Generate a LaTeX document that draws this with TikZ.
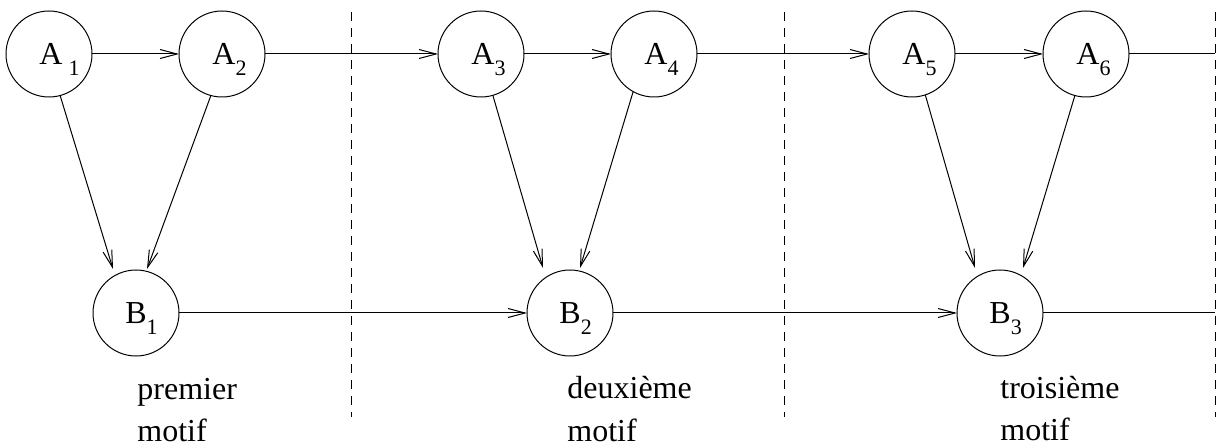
\documentclass[tikz,border=0pt]{standalone}
\usepackage{fontspec}
\setmainfont{Liberation Serif}
\usetikzlibrary{arrows.meta,calc}
% lowered, smaller index after a letter
\newcommand\idx[1]{\raisebox{-5.25pt}{\fontsize{11}{11}\selectfont #1}}
\begin{document}
\begin{tikzpicture}[x=0.5pt,y=-0.5pt,
  state/.style={circle,draw,line width=0.5pt,minimum size=43pt,inner sep=0pt,outer sep=0pt},
  lbl/.style={anchor=base west,inner sep=0pt,font=\fontsize{16}{19}\selectfont},
  caption/.style={anchor=base west,inner sep=0pt,font=\fontsize{16}{19}\selectfont},
  link/.style={line width=0.5pt,-{Straight Barb[length=8.5pt,width=4.5pt]}},
  plain/.style={line width=0.5pt},
  sep/.style={line width=0.5pt,dash pattern=on 4.5pt off 3.5pt}]
\useasboundingbox (0,0) rectangle (1225,448);

% states of the chain
\node[state] (A1) at (49,54) {};
\node[state] (A2) at (222,54) {};
\node[state] (A3) at (481,54) {};
\node[state] (A4) at (654,54) {};
\node[state] (A5) at (912,54) {};
\node[state] (A6) at (1086,54) {};
\node[state] (B1) at (136,313) {};
\node[state] (B2) at (570,313) {};
\node[state] (B3) at (1000,313) {};

% their names
\node[lbl] (tA1) at ($(A1)+(-10,11)$) {A\kern3pt\idx{1}};
\node[lbl] (tA2) at ($(A2)+(-10,11)$) {A\idx{2}};
\node[lbl] (tA3) at ($(A3)+(-10,11)$) {A\idx{3}};
\node[lbl] (tA4) at ($(A4)+(-10,11)$) {A\idx{4}};
\node[lbl] (tA5) at ($(A5)+(-10,11)$) {A\idx{5}};
\node[lbl] (tA6) at ($(A6)+(-10,11)$) {A\idx{6}};
\node[lbl] (tB1) at ($(B1)+(-11,11)$) {B\idx{1}};
\node[lbl] (tB2) at ($(B2)+(-11,11)$) {B\idx{2}};
\node[lbl] (tB3) at ($(B3)+(-11,11)$) {B\idx{3}};

% boundaries between motifs
\coordinate (s1t) at (351,12);  \coordinate (s1b) at (351,417);
\coordinate (s2t) at (784,12);  \coordinate (s2b) at (784,417);
\coordinate (s3t) at (1215,12); \coordinate (s3b) at (1215,417);
\draw[sep] (s1t) -- (s1b);
\draw[sep] (s2t) -- (s2b);
\draw[sep] (s3t) -- (s3b);

% upper chain
\draw[link] (A1.east) -- (A2.west);
\draw[link] (A2.east) -- (A3.west);
\draw[link] (A3.east) -- (A4.west);
\draw[link] (A4.east) -- (A5.west);
\draw[link] (A5.east) -- (A6.west);
\coordinate (eA) at (1215,54);
\draw[plain] (A6.east) -- (eA);

% lower chain
\draw[link] (B1.east) -- (B2.west);
\draw[link] (B2.east) -- (B3.west);
\coordinate (eB) at (1215,313);
\draw[plain] (B3.east) -- (eB);

% each pair of A feeds one B
\draw[link] (A1.-75) -- ($(B1.north)+(-23,-1)$);
\draw[link] (A2.-105) -- ($(B1.north)+(11,-1)$);
\draw[link] (A3.-74) -- ($(B2.north)+(-27,-2)$);
\draw[link] (A4.-119) -- ($(B2.north)+(10,-2)$);
\draw[link] (A5.-72) -- ($(B3.north)+(-25,-2)$);
\draw[link] (A6.-105) -- ($(B3.north)+(23,-2)$);

% motif captions
\node[caption] (c1a) at (137,400) {premier};
\node[caption] (c1b) at (137,441) {motif};
\node[caption] (c2a) at (567,399) {deuxième};
\node[caption] (c2b) at (567,441) {motif};
\node[caption] (c3a) at (1000,398) {troisième};
\node[caption] (c3b) at (1000,440) {motif};
\end{tikzpicture}
\end{document}
